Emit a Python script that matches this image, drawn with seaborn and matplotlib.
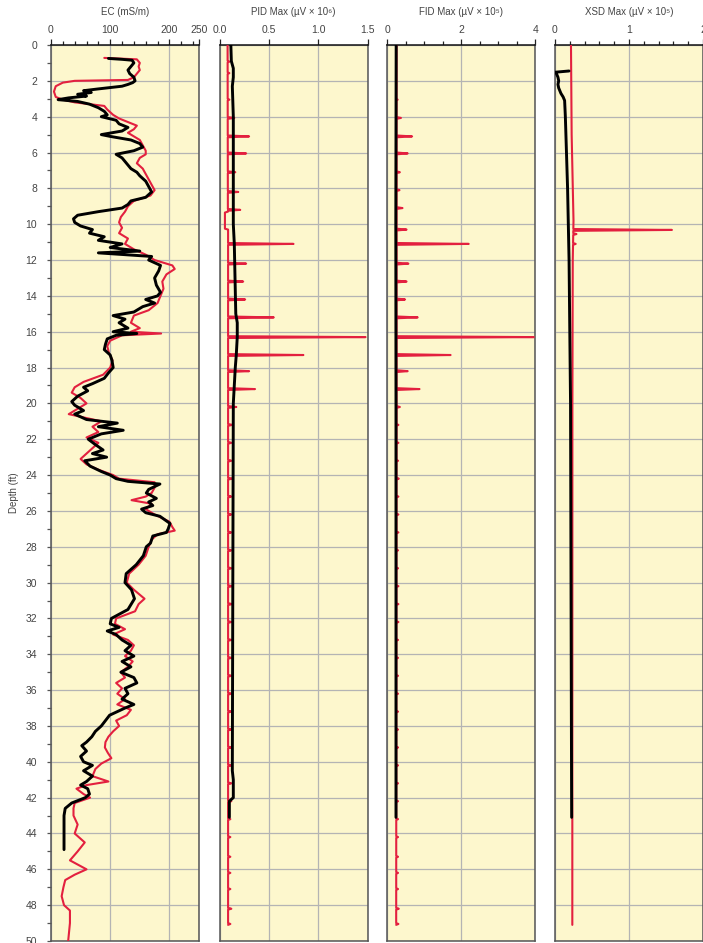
import numpy as np
import pandas as pd
import matplotlib
matplotlib.use("Agg")
import matplotlib.pyplot as plt
import seaborn as sns
from matplotlib.ticker import FixedLocator, MultipleLocator, NullLocator

sns.set_theme(style="white")
plt.rcParams["font.family"] = ["Liberation Sans", "DejaVu Sans"]

RED = "#E3203F"
BLACK = "#000000"
PANEL_BG = "#FDF7CD"
GRID = "#B4B4B4"
TEXT = "#444444"
SPINE = "#555555"

# ---------------- EC (mS/m) ----------------
ec_black_depth = [0.75, 0.80, 0.85, 1.0, 1.2, 1.4, 1.6, 1.8, 2.0, 2.1, 2.2, 2.3, 2.45, 2.55, 2.65,
                  2.75, 2.85, 2.95, 3.05, 3.15, 3.3, 3.5, 3.7, 3.9, 4.0, 4.2, 4.4, 4.6, 4.8, 5.0,
                  5.1, 5.3, 5.5, 5.7, 5.9, 6.1, 6.3, 6.5, 6.7, 6.9, 7.1, 7.3, 7.6, 7.9, 8.2, 8.5,
                  8.7, 8.9, 9.1, 9.3, 9.5, 9.7, 9.9, 10.1, 10.3, 10.5, 10.7, 10.9, 11.1, 11.3,
                  11.5, 11.6, 11.8, 12.0, 12.3, 12.6, 13.0, 13.4, 13.8, 14.0, 14.2, 14.4, 14.6,
                  14.9, 15.1, 15.3, 15.5, 15.8, 16.0, 16.1, 16.2, 16.4, 16.7, 17.0, 17.3, 17.6,
                  18.0, 18.3, 18.6, 18.9, 19.1, 19.3, 19.6, 19.9, 20.1, 20.4, 20.6, 20.9, 21.1,
                  21.3, 21.5, 21.7, 22.0, 22.3, 22.6, 22.8, 23.0, 23.2, 23.5, 23.8, 24.0, 24.2,
                  24.35, 24.5, 24.8, 25.0, 25.3, 25.5, 25.7, 25.9, 26.1, 26.3, 26.7, 27.0, 27.2,
                  27.4, 27.8, 28.0, 28.5, 29.0, 29.5, 30.0, 30.4, 30.9, 31.5, 32.0, 32.3, 32.5,
                  32.7, 32.9, 33.2, 33.5, 33.8, 34.1, 34.4, 34.7, 35.0, 35.3, 35.6, 35.9, 36.2,
                  36.5, 36.8, 37.0, 37.4, 37.7, 38.0, 38.3, 38.6, 38.9, 39.1, 39.4, 39.7, 40.0,
                  40.2, 40.5, 40.8, 41.1, 41.3, 41.5, 41.8, 42.0, 42.3, 42.6, 43.0, 44.0, 44.9]
ec_black_value = [97, 120, 137, 140, 135, 130, 133, 140, 142, 138, 130, 120, 80, 55, 68,
                  45, 60, 30, 12, 45, 65, 80, 90, 95, 85, 110, 115, 130, 120, 85,
                  100, 135, 150, 155, 140, 110, 120, 125, 130, 135, 145, 150, 160, 165, 170, 160,
                  135, 130, 120, 80, 45, 38, 40, 50, 70, 65, 90, 80, 120, 100,
                  150, 80, 170, 165, 185, 182, 175, 178, 185, 180, 160, 175, 155,
                  140, 105, 125, 115, 130, 105, 145, 110, 95, 92, 90, 100, 103,
                  105, 97, 90, 70, 55, 62, 45, 35, 40, 55, 40, 60, 112,
                  80, 122, 85, 63, 75, 88, 70, 94, 57, 66, 85, 100, 110,
                  130, 184, 165, 161, 178, 165, 172, 153, 160, 184, 201, 198, 195,
                  172, 168, 161, 156, 144, 127, 125, 136, 141, 130, 102, 100, 115,
                  95, 110, 120, 135, 125, 140, 120, 135, 118, 140, 145, 125, 130,
                  120, 140, 125, 99, 92, 85, 75, 69, 60, 52, 60, 50, 55,
                  70, 55, 70, 60, 50, 62, 65, 58, 35, 24, 22, 22, 22]

ec_red_depth = [0.72, 0.8, 1.0, 1.2, 1.4, 1.6, 1.8, 1.95, 2.0, 2.1, 2.3, 2.6, 2.9, 3.05, 3.2,
                3.4, 3.6, 3.9, 4.1, 4.3, 4.5, 4.7, 4.9, 5.1, 5.3, 5.6, 5.9, 6.1, 6.3, 6.6, 6.9,
                7.2, 7.5, 7.8, 8.1, 8.4, 8.7, 9.0, 9.3, 9.6, 9.9, 10.2, 10.5, 10.8, 11.1, 11.4,
                11.7, 12.0, 12.3, 12.5, 12.8, 13.2, 13.6, 14.0, 14.4, 14.8, 15.1, 15.5, 15.8,
                16.0, 16.1, 16.2, 16.5, 16.8, 17.2, 17.6, 18.0, 18.4, 18.8, 19.1, 19.4, 19.7,
                20.0, 20.3, 20.6, 21.0, 21.3, 21.6, 21.9, 22.2, 22.5, 22.8, 23.1, 23.4, 23.7,
                24.0, 24.2, 24.4, 24.7, 25.0, 25.2, 25.4, 25.6, 25.9, 26.2, 26.6, 26.9, 27.1,
                27.3, 27.6, 28.0, 28.5, 29.0, 29.5, 30.0, 30.4, 30.9, 31.2, 31.6, 32.0, 32.3,
                32.6, 32.9, 33.2, 33.5, 33.8, 34.1, 34.4, 34.7, 35.0, 35.3, 35.6, 35.9, 36.2,
                36.5, 36.8, 37.1, 37.4, 37.7, 38.0, 38.3, 38.6, 38.9, 39.2, 39.5, 39.8, 40.1,
                40.4, 40.8, 41.1, 41.3, 41.5, 41.8, 42.0, 42.3, 42.6, 43.0, 43.5, 44.0, 44.5,
                45.0, 45.5, 46.0, 46.3, 46.6, 47.0, 47.5, 48.0, 48.3, 49.0, 50.0]
ec_red_value = [90, 145, 150, 148, 150, 145, 140, 130, 40, 20, 8, 5, 8, 20, 40,
                90, 95, 105, 115, 130, 145, 140, 130, 140, 150, 155, 160, 160, 150, 145, 155,
                160, 165, 170, 175, 168, 140, 130, 125, 118, 115, 120, 115, 130, 125, 140,
                160, 175, 205, 209, 195, 188, 190, 185, 180, 165, 140, 135, 150,
                135, 186, 120, 100, 95, 98, 104, 100, 88, 55, 40, 35, 50,
                60, 45, 30, 85, 70, 80, 60, 80, 70, 60, 50, 60, 80,
                105, 115, 175, 175, 170, 160, 136, 170, 160, 175, 200, 205, 209,
                180, 170, 165, 160, 148, 132, 128, 140, 158, 148, 142, 110, 108,
                125, 105, 130, 140, 135, 125, 138, 130, 118, 125, 110, 120, 112,
                125, 112, 135, 128, 110, 115, 105, 97, 92, 91, 96, 102, 85,
                75, 70, 97, 60, 43, 55, 66, 40, 38, 38, 45, 40, 57,
                45, 32, 60, 40, 24, 21, 18, 22, 32, 32, 29]

# ---------------- PID Max (uV x 10^6) ----------------
pid_black_depth = [0.0, 0.9, 1.3, 1.8, 2.3, 4.0, 10.0, 11.1, 15.0, 15.5, 16.3, 17.3, 18.0, 20.0,
                   30.0, 40.5, 41.0, 42.0, 42.2, 43.1]
pid_black_value = [0.115, 0.12, 0.14, 0.14, 0.13, 0.14, 0.14, 0.15, 0.165, 0.18, 0.18, 0.17, 0.16,
                   0.14, 0.135, 0.13, 0.14, 0.14, 0.10, 0.10]
pid_red_base_depth = [0.0, 9.3, 9.35, 10.25, 10.3, 20.0, 49.1]
pid_red_base_value = [0.082, 0.085, 0.055, 0.055, 0.087, 0.087, 0.087]
pid_spike_depth = [0.93, 1.57, 3.05, 4.07, 5.1, 6.05, 7.1, 8.2, 9.2, 11.1, 12.2, 13.2, 14.2,
                   15.2, 16.3, 17.3, 18.2, 19.2, 20.2, 21.2, 22.2, 23.2, 24.2, 25.2, 26.2, 27.2,
                   28.2, 29.2, 30.2, 31.2, 32.2, 33.2, 34.2, 35.2, 36.2, 37.2, 38.2, 39.2, 40.2,
                   41.2, 42.2, 43.2, 44.2, 45.3, 46.2, 47.1, 48.2, 49.05]
pid_spike_value = [0.10, 0.10, 0.10, 0.15, 0.30, 0.27, 0.16, 0.19, 0.21, 0.75, 0.27, 0.24, 0.26,
                   0.55, 1.48, 0.85, 0.30, 0.36, 0.17, 0.13, 0.12, 0.12, 0.13, 0.12, 0.12, 0.12,
                   0.12, 0.12, 0.13, 0.13, 0.12, 0.12, 0.12, 0.12, 0.12, 0.12, 0.12, 0.12, 0.12,
                   0.12, 0.12, 0.11, 0.11, 0.11, 0.11, 0.11, 0.12, 0.11]

# ---------------- FID Max (uV x 10^5) ----------------
fid_black_depth = [0.0, 10.0, 20.0, 43.1]
fid_black_value = [0.24, 0.23, 0.235, 0.235]
fid_red_base_depth = [0.0, 20.0, 49.1]
fid_red_base_value = [0.25, 0.25, 0.24]
fid_spike_depth = [3.05, 4.07, 5.1, 6.05, 7.1, 8.1, 9.1, 10.3, 11.1, 12.2, 13.2, 14.2, 15.2,
                   16.3, 17.3, 18.2, 19.2, 20.2, 21.2, 22.2, 23.2, 24.2, 25.2, 26.2, 27.2, 28.2,
                   29.2, 30.2, 31.2, 32.2, 33.2, 34.2, 35.2, 36.2, 37.2, 38.2, 39.2, 40.2, 41.2,
                   42.2, 43.2, 44.2, 45.3, 46.2, 47.1, 48.2, 49.05]
fid_spike_value = [0.28, 0.37, 0.67, 0.55, 0.34, 0.33, 0.41, 0.52, 2.2, 0.57, 0.52, 0.48, 0.82,
                   3.96, 1.71, 0.55, 0.87, 0.34, 0.30, 0.30, 0.29, 0.31, 0.30, 0.30, 0.30, 0.29,
                   0.29, 0.30, 0.30, 0.30, 0.29, 0.29, 0.29, 0.29, 0.29, 0.29, 0.29, 0.29, 0.29,
                   0.29, 0.29, 0.29, 0.29, 0.29, 0.29, 0.31, 0.30]

# ---------------- XSD Max (uV x 10^5) ----------------
xsd_black_depth = [1.45, 1.52, 1.6, 1.8, 2.0, 2.2, 2.4, 2.7, 2.9, 3.1, 4.0, 8.0, 12.0, 20.0, 43.1]
xsd_black_value = [0.19, 0.0, 0.02, 0.04, 0.05, 0.04, 0.05, 0.08, 0.11, 0.13, 0.14, 0.17, 0.19,
                   0.21, 0.225]
xsd_red_base_depth = [0.0, 5.0, 9.8, 12.0, 20.0, 49.1]
xsd_red_base_value = [0.216, 0.225, 0.25, 0.24, 0.235, 0.234]
xsd_spike_depth = [10.32, 10.55, 11.1]
xsd_spike_value = [1.58, 0.29, 0.28]


def trace_with_spikes(base_depth, base_value, spike_depth, spike_value, half=0.05):
    """Join a smooth baseline and narrow peaks into one depth-ordered trace."""
    depth = list(base_depth)
    value = list(base_value)
    for d, v in zip(spike_depth, spike_value):
        for dd in (d - half, d + half):
            depth.append(dd)
            value.append(float(np.interp(dd, base_depth, base_value)))
        depth.append(d)
        value.append(v)
    df = pd.DataFrame({"depth": depth, "value": value})
    return df.sort_values("depth").reset_index(drop=True)


panels = [
    dict(title="EC (mS/m)", xlim=(0, 250), major=[0, 100, 200, 250],
         labels=["0", "100", "200", "250"], minor=20,
         red=pd.DataFrame({"depth": ec_red_depth, "value": ec_red_value}),
         black=pd.DataFrame({"depth": ec_black_depth, "value": ec_black_value})),
    dict(title="PID Max (µV × 10⁶)", xlim=(0, 1.5), major=[0, 0.5, 1.0, 1.5],
         labels=["0.0", "0.5", "1.0", "1.5"], minor=None,
         red=trace_with_spikes(pid_red_base_depth, pid_red_base_value,
                               pid_spike_depth, pid_spike_value),
         black=pd.DataFrame({"depth": pid_black_depth, "value": pid_black_value})),
    dict(title="FID Max (µV × 10⁵)", xlim=(0, 4), major=[0, 2, 4],
         labels=["0", "2", "4"], minor=0.5,
         red=trace_with_spikes(fid_red_base_depth, fid_red_base_value,
                               fid_spike_depth, fid_spike_value),
         black=pd.DataFrame({"depth": fid_black_depth, "value": fid_black_value})),
    dict(title="XSD Max (µV × 10⁵)", xlim=(0, 2), major=[0, 1, 2],
         labels=["0", "1", "2"], minor=0.2,
         red=trace_with_spikes(xsd_red_base_depth, xsd_red_base_value,
                               xsd_spike_depth, xsd_spike_value),
         black=pd.DataFrame({"depth": xsd_black_depth, "value": xsd_black_value})),
]

W, H = 703, 943
fig = plt.figure(figsize=(W / 100, H / 100), dpi=100)
fig.patch.set_facecolor("white")

lefts = [51, 219.5, 387.3, 555]
panel_w = 148
top_px, bot_px = 45, 941

for i, (p, left) in enumerate(zip(panels, lefts)):
    ax = fig.add_axes([left / W, (H - bot_px) / H, panel_w / W, (bot_px - top_px) / H])
    ax.set_facecolor(PANEL_BG)
    ax.set_axisbelow(True)

    sns.lineplot(data=p["red"], x="value", y="depth", orient="y", sort=True,
                 estimator=None, color=RED, lw=1.5, ax=ax, zorder=3)
    sns.lineplot(data=p["black"], x="value", y="depth", orient="y", sort=True,
                 estimator=None, color=BLACK, lw=2.1, ax=ax, zorder=4)

    ax.set_xlim(*p["xlim"])
    ax.set_ylim(50, 0)
    ax.set_xlabel("")
    ax.set_ylabel("")

    ax.xaxis.tick_top()
    ax.xaxis.set_label_position("top")
    ax.xaxis.set_major_locator(FixedLocator(p["major"]))
    ax.set_xticklabels(p["labels"])
    if p["minor"]:
        ax.xaxis.set_minor_locator(MultipleLocator(p["minor"]))
    else:
        ax.xaxis.set_minor_locator(NullLocator())
    ax.tick_params(axis="x", which="major", top=True, bottom=False, length=4.5, width=0.9,
                   color="#222222", labelsize=7.5, labelcolor=TEXT, pad=3)
    ax.tick_params(axis="x", which="minor", top=True, bottom=False, length=2.6, width=0.9,
                   color="#222222")

    ax.yaxis.set_major_locator(MultipleLocator(2))
    ax.yaxis.set_minor_locator(MultipleLocator(1))
    if i == 0:
        ax.tick_params(axis="y", which="both", left=True, length=3, width=0.9,
                       color="#555555", labelsize=7.5, labelcolor=TEXT, pad=7)
    else:
        ax.tick_params(axis="y", which="both", left=False, labelleft=False)

    ax.grid(True, which="major", axis="both", color=GRID, lw=0.9)
    ax.grid(False, which="minor")

    for name, sp in ax.spines.items():
        sp.set_visible(True)
        sp.set_color(SPINE)
        sp.set_linewidth(1.1)
    ax.spines["top"].set_color("#111111")

    fig.text((left + panel_w / 2) / W, 1 - 12 / H, p["title"], ha="center", va="center",
             fontsize=7, color=TEXT)

fig.text(14 / W, 1 - 493 / H, "Depth (ft)", rotation=90, ha="center", va="center",
         fontsize=7, color=TEXT)

fig.savefig("out.png", dpi=100)
